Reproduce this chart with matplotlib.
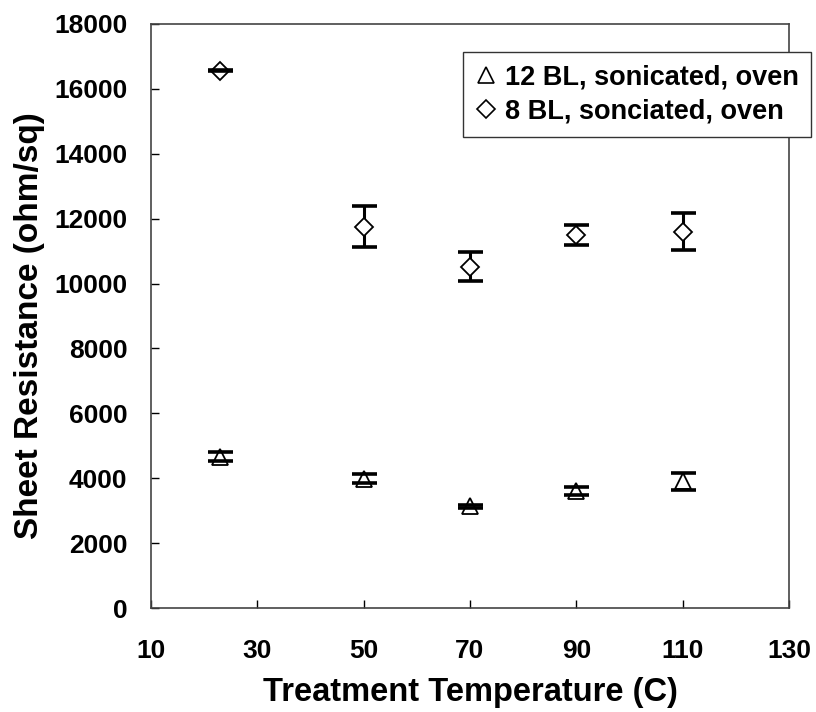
import numpy as np
import matplotlib.pyplot as plt
from matplotlib.lines import Line2D

plt.rcParams['font.family'] = ['Liberation Sans', 'DejaVu Sans']
plt.rcParams['font.weight'] = 'bold'

# dados
temps = [23, 50, 70, 90, 110]
res_12bl = [4664, 3990, 3129, 3606, 3909]
err_12bl = [138, 145, 35, 115, 259]
res_8bl = [16560, 11756, 10522, 11500, 11598]
err_8bl = [15, 635, 445, 318, 578]

label_12bl = "12 BL, sonicated, oven"
label_8bl = "8 BL, sonciated, oven"

fig = plt.figure(figsize=(8.16, 7.12), dpi=100)
ax = fig.add_axes([151 / 816, 1 - 608 / 712, 638 / 816, 584 / 712])


def plot_serie(x, y, err, marker, ms):
    # marcadores por cima da barra vertical, capas por cima dos marcadores
    ax.plot(x, y, linestyle='none', marker=marker, ms=ms, mfc='white',
            mec='black', mew=1.3, zorder=3)
    _, caps, bars = ax.errorbar(x, y, yerr=err, fmt='none', ecolor='black',
                                elinewidth=2.2, capsize=9, capthick=2.6)
    for b in bars:
        b.set_zorder(2)
    for c in caps:
        c.set_zorder(4)


plot_serie(temps, res_12bl, err_12bl, '^', 12)
plot_serie(temps, res_8bl, err_8bl, 'D', 8.7)

ax.set_xlim(10, 130)
ax.set_ylim(0, 18000)
ax.set_xticks(np.arange(10, 131, 20))
ax.set_yticks(np.arange(0, 18001, 2000))
ax.tick_params(direction='in', length=6, width=1, labelsize=19)
ax.tick_params(axis='y', pad=17)
ax.tick_params(axis='x', pad=22)
for s in ax.spines.values():
    s.set_linewidth(1.2)
    s.set_color('#444444')

ax.set_xlabel("Treatment Temperature (C)", fontsize=23.5, fontweight='bold', va='top')
ax.set_ylabel("Sheet Resistance (ohm/sq)", fontsize=24, fontweight='bold')
ax.xaxis.set_label_coords(0.5, -0.119)
ax.yaxis.set_label_coords(-0.166, 0.483)

handles = [
    Line2D([], [], linestyle='none', marker='^', ms=12, mfc='white', mec='black', mew=1.2),
    Line2D([], [], linestyle='none', marker='D', ms=9.5, mfc='white', mec='black', mew=1.2),
]
leg = fig.legend(handles, [label_12bl, label_8bl], loc='upper left',
                 bbox_to_anchor=(463 / 816, 1 - 52 / 712), bbox_transform=fig.transFigure,
                 fontsize=19.5, frameon=True, fancybox=False, framealpha=1,
                 edgecolor='#333333', borderaxespad=0, handlelength=0.8,
                 handletextpad=0.3, borderpad=0.45, labelspacing=0.3)
leg.get_frame().set_linewidth(1.0)

fig.savefig("out.png", dpi=100)
